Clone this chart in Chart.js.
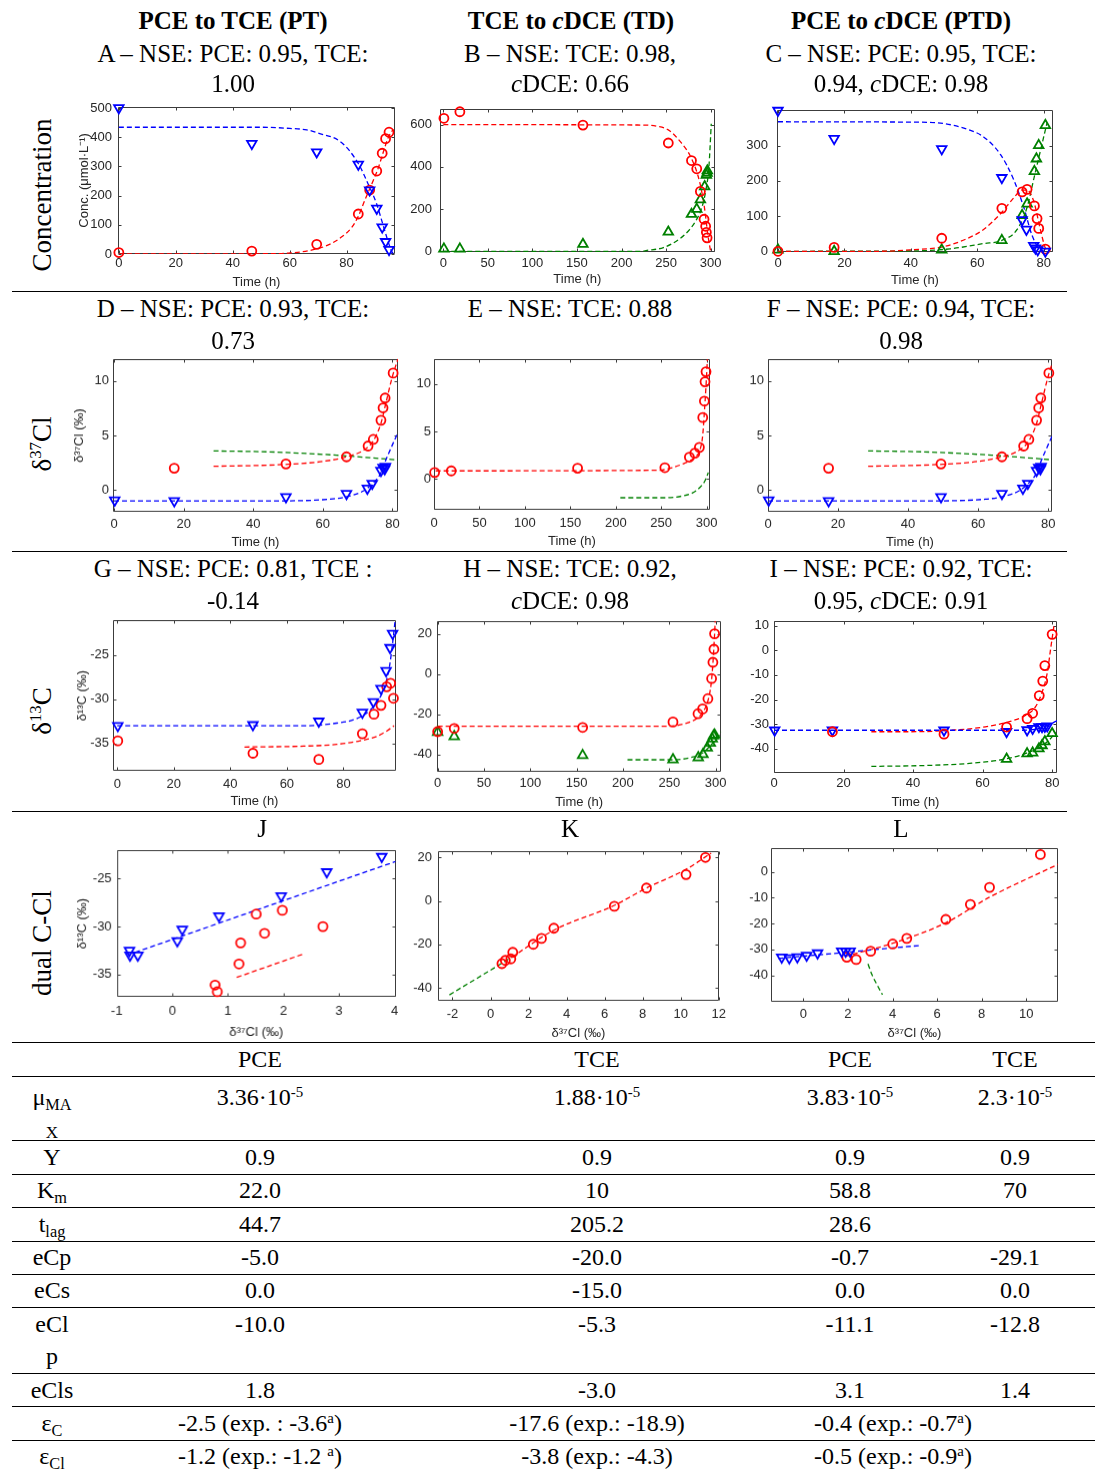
<!DOCTYPE html>
<html>
<head>
<meta charset="utf-8">
<title>PCE / TCE / cDCE model fits</title>
<script src="https://cdn.jsdelivr.net/npm/chart.js@4.4.1/dist/chart.umd.min.js"></script>
<style>
  body { margin: 0; width: 1099px; height: 1471px; position: relative; overflow: hidden; background: #fff;
         font-family: "Liberation Serif", "Times New Roman", serif; color: #000; }
  .t { position: absolute; white-space: nowrap; transform: translate(-50%, -50%); font-size: 25px; line-height: 1; }
  .tb { font-size: 24px; }
  .rot { position: absolute; white-space: nowrap; transform: translate(-50%, -50%) rotate(-90deg); font-size: 27px; line-height: 1; }
  .hl { position: absolute; height: 0; border-top: 1.5px solid #000; }
  canvas { position: absolute; }
  sup { font-size: 0.62em; vertical-align: 0.55em; line-height: 0; }
  sub { font-size: 0.68em; vertical-align: -0.28em; line-height: 0; }
</style>
</head>
<body>
<script>
"use strict";

// ---------- A: PCE -> TCE, concentrations (umol/L)
const aTime = [0, 46.7, 69.5, 84.1, 88.1, 90.6, 92.5, 93.7, 94.9];
const aPCE = [500, 378, 349, 307, 219, 156, 92, 42, 15];
const aTCE = [5, 10, 33, 137, 219, 284, 345, 395, 417];
const aFitPceT = [0, 50, 60, 66, 70, 78.2, 84.1, 87.6, 90.5, 92.9, 94.6, 95.8, 96.5];
const aFitPce = [434, 434, 430, 425, 414, 382, 310, 239, 173, 96, 42, 9, 0];
const aFitTceT = [0, 55, 59.5, 66.5, 73.6, 78.2, 81.8, 84.1, 86.4, 88.8, 91.1, 92.9, 94.6, 96.4];
const aFitTce = [0, 1, 3, 11, 31, 58, 91, 129, 184, 239, 294, 349, 398, 428];

// ---------- B: TCE -> cDCE, concentrations
const bTime = [0.7, 18.6, 156.7, 252.5, 278.5, 284.4, 288.5, 292.6, 294.4, 295.2, 296];
const bTCE = [630, 661, 598, 513, 430, 391, 284, 152, 119, 90, 64];
const bDceTime = [0.7, 18.6, 156.7, 252.5, 278.5, 284.4, 288.5, 293.3, 295.2, 296, 296.3];
const bDCE = [12, 12, 34, 92, 176, 200, 245, 307, 361, 371, 382];
const bFitTceT = [0, 225, 240, 252.5, 265.5, 278.5, 287.7, 293, 297, 300];
const bFitTce = [600, 598, 592, 575, 522, 440, 328, 209, 75, 0];
const bFitDceT = [0, 221, 228.5, 247, 265.5, 276.6, 284, 289.6, 294.4, 298.1, 300.7];
const bFitDce = [0, 0, 4.5, 18, 60, 104, 149, 201, 284, 403, 604];

// ---------- C: PCE -> cDCE, concentrations
const cTime = [0, 16.9, 49.3, 67.4, 73.5, 74.8, 77, 77.5, 78.2, 80.5];
const cPCE = [400, 320, 291, 209, 89, 62, 16, 9, 4, 0];
const cTceTime = [0, 16.9, 49.3, 67.4, 73.5, 75, 77.2, 78, 78.5, 80.5];
const cTCE = [0, 11, 37, 122, 169, 176, 129, 93, 65, 6];
const cDceTime = [0, 16.9, 49.3, 67.4, 73.5, 75, 77.2, 77.8, 78.5, 80.5];
const cDCE = [4, 0, 4, 31, 102, 135, 227, 263, 301, 358];
const cFitPceT = [0, 40, 49.8, 56.9, 61.9, 66.9, 70.9, 74, 76.5, 79, 81];
const cFitPce = [368, 367, 363, 347, 325, 276, 205, 125, 45, 4, 0];
const cFitTceT = [0, 30, 39.7, 49.8, 56.9, 61.9, 67.4, 70.9, 73.5, 75, 77, 79, 80.5, 81.5];
const cFitTce = [0, 0, 4, 13, 36, 62, 111, 151, 174, 174, 142, 62, 9, 0];
const cFitDceT = [0, 40, 51.8, 61.9, 67.4, 72, 75, 77, 79, 81];
const cFitDce = [0, 1, 7, 22, 31, 62, 125, 205, 285, 365];

// ---------- D / F: d37Cl (same data in both panels)
const dTime = [0.2, 17.3, 49.4, 66.8, 72.8, 74.2, 76.7, 77.3, 77.8, 78.0];
const dPCE = [-0.93, -0.99, -0.63, -0.33, 0.15, 0.6, 1.79, 2.06, 1.94, 2.15];
const dTceTime = [17.3, 49.4, 66.8, 73.0, 74.5, 76.7, 77.3, 77.9, 80.2];
const dTCE = [2.0, 2.39, 3.04, 4.03, 4.63, 6.39, 7.52, 8.42, 10.7];
const dFitPceT = [0, 44.8, 62, 67.8, 71.6, 74.5, 76.4, 78.3, 81.6];
const dFitPce = [-0.99, -0.99, -0.84, -0.54, -0.09, 0.66, 1.4, 2.9, 5.28];
const dFitTceT = [28.6, 40, 50, 60, 66.8, 72, 74.5, 76.7, 78, 80, 81.6];
const dFitTce = [2.18, 2.24, 2.36, 2.62, 3.04, 3.7, 4.5, 6.1, 7.8, 10.4, 12];
const dFitDceT = [28.6, 44.8, 63.9, 73.5, 81.6];
const dFitDce = [3.58, 3.49, 3.19, 2.96, 2.75];

// ---------- E: d37Cl, TCE -> cDCE
const eTime = [0.7, 19, 158, 254, 281, 287, 292, 295.7, 297.5, 298.2, 299.3];
const eTCE = [0.69, 0.86, 1.14, 1.2, 2.31, 2.72, 3.34, 6.48, 8.21, 10.24, 11.3];
const eFitTceT = [1.8, 248, 262, 276.7, 287.5, 292.8, 295.7, 297.5, 299.3, 300.8];
const eFitTce = [0.86, 0.93, 1.2, 1.72, 2.31, 3.1, 4.65, 7.07, 9.83, 12.6];
const eFitDceT = [205, 255, 273, 284, 292.8, 298.2, 301.8];
const eFitDce = [-1.97, -1.97, -1.79, -1.48, -0.86, -0.17, 0.69];

// ---------- G: d13C, PCE -> TCE
const gTime = [0.2, 48, 71.3, 86.7, 90.6, 93.3, 95.1, 96.5, 97.4];
const gPCE = [-33.0, -32.9, -32.5, -31.5, -30.3, -28.8, -26.8, -24.2, -22.6];
const gTceTime = [0.2, 48, 71.3, 86.7, 90.8, 93.3, 95.3, 96.7, 97.7];
const gTCE = [-34.7, -36.1, -36.8, -33.9, -31.7, -30.7, -28.6, -28.2, -29.9];
const gFitPceT = [0, 65.9, 77.6, 84.7, 89.4, 92.4, 94.7, 96.3, 97.4, 98.3];
const gFitPce = [-33, -33, -32.7, -32.2, -31.25, -30.1, -28.5, -26.3, -23.7, -21.1];
const gFitTceT = [45, 65.9, 77.6, 85.9, 91.8, 95.3, 97.9];
const gFitTce = [-35.4, -35.3, -35.1, -34.7, -34.2, -33.6, -33.0];

// ---------- H: d13C, TCE -> cDCE
const hTime = [0, 17.9, 156.5, 254, 281, 286, 291.7, 295.7, 297.1, 298.2, 298.9];
const hTCE = [-28.7, -27.1, -26.6, -23.9, -19.8, -17.4, -12.3, -2.3, 5.8, 12.3, 20];
const hDceTime = [0, 17.9, 156.5, 254, 281.3, 286.4, 291, 294.3, 296.4, 297.8, 298.9];
const hDCE = [-29, -31.1, -40.5, -42.6, -41.6, -40, -36.8, -34.4, -32.3, -30.8, -30.3];
const hFitTceT = [0, 246.9, 264.8, 279.2, 286.3, 291.7, 295.3, 297.1, 298.9, 299.6];
const hFitTce = [-26, -26, -25, -22.3, -19, -13.4, -4.5, 5.2, 19.7, 26.4];
const hFitDceT = [204.9, 254, 275.6, 286.3, 295.3, 302.5, 306];
const hFitDce = [-42.7, -42.7, -41.3, -39.2, -35.2, -31.6, -28.7];

// ---------- I: d13C, PCE -> cDCE
const iTime = [0.2, 16.8, 48.9, 66.9, 72.8, 74.4, 76.2, 77.1, 77.9, 78.6];
const iPCE = [-32.5, -32.5, -32.5, -33.1, -32.4, -31.8, -31.1, -31.1, -31.0, -30.8];
const iTceTime = [16.8, 48.9, 66.9, 72.8, 74.4, 76.3, 77.3, 77.9, 80];
const iTCE = [-33.1, -34.1, -31.2, -27.8, -25.6, -18.4, -12.5, -6.2, 6.5];
const iDceTime = [66.9, 72.8, 74.4, 76.2, 77.1, 77.9, 80];
const iDCE = [-44.2, -42.0, -41.7, -40.0, -38.7, -37.1, -33.8];
const iFitPceT = [0, 71.3, 76.2, 79, 81.4];
const iFitPce = [-32.5, -32.5, -31.8, -30.4, -28.6];
const iFitTceT = [28, 39.6, 51.2, 60.8, 67.5, 72.3, 75.2, 77.1, 78.6, 79.5, 80.5];
const iFitTce = [-33.1, -33.1, -32.5, -31.1, -29.1, -26.5, -23, -17.1, -9.2, -0.1, 9.7];
const iFitDceT = [28, 44.4, 56.9, 66.5, 72.3, 76.2, 79, 81];
const iFitDce = [-47.2, -46.8, -45.9, -44.2, -42, -39.6, -36.7, -33.5];

// ---------- J/K/L: dual isotope plots (x = d37Cl, y = d13C)
const jPceCl = [-0.77, -0.76, -0.62, 0.09, 0.18, 0.84, 1.96, 2.78, 3.77];
const jPceC = [-32.5, -33.0, -33.0, -31.5, -30.3, -28.9, -26.8, -24.3, -22.7];
const jTceCl = [0.77, 0.81, 1.2, 1.23, 1.51, 1.66, 1.98, 2.71];
const jTceC = [-36.1, -36.8, -33.9, -31.7, -28.7, -30.7, -28.3, -30.0];
const jFitPceCl = [-0.67, 4.02];
const jFitPceC = [-32.7, -23.2];
const jFitTceCl = [1.16, 2.34];
const jFitTceC = [-35.3, -32.9];

const kTceCl = [0.6, 0.78, 1.07, 1.17, 2.25, 2.68, 3.33, 6.51, 8.2, 10.28, 11.3];
const kTceC = [-28.9, -27.4, -26.7, -23.7, -20, -17.3, -12.6, -2.5, 5.9, 12.1, 20];
const kFitTceCl = [1.12, 3.33, 6.48, 8.2, 10.28, 11.6];
const kFitTceC = [-25.9, -13.5, -2.2, 5.9, 14.5, 22];
const kFitDceCl = [-2.16, -1.12, 0, 1.12];
const kFitDceC = [-43.3, -37.8, -31.9, -25.9];

const lPceCl = [-0.97, -0.63, -0.27, 0.15, 0.64, 1.72, 1.9, 2.1];
const lPceC = [-33.0, -33.3, -32.9, -32.3, -31.4, -30.7, -30.7, -30.7];
const lTceCl = [1.95, 2.37, 3.02, 4.01, 4.64, 6.39, 7.49, 8.35, 10.63];
const lTceC = [-33.0, -33.9, -30.7, -27.9, -25.7, -18.4, -12.6, -6.0, 6.7];
const lFitPceCl = [-1.12, 5.31];
const lFitPceC = [-33.5, -28.4];
const lFitTceCl = [1.87, 4.01, 6.39, 8.35, 11.42];
const lFitTceC = [-32.6, -27.6, -19.7, -9.8, 2.9];
const lFitDceCl = [2.9, 3.07, 3.29, 3.55];
const lFitDceC = [-35.6, -39.6, -43.4, -47.5];

// ---------- tick labels
const ticksTime80 = [0, 20, 40, 60, 80];
const ticksTime300 = [0, 50, 100, 150, 200, 250, 300];
const ticksConcA = [0, 100, 200, 300, 400, 500];
const ticksConcB = [0, 200, 400, 600];
const ticksConcC = [0, 100, 200, 300];
const ticksCl = [0, 5, 10];
const ticksCG = [-35, -30, -25];
const ticksCH = [-40, -20, 0, 20];
const ticksCI = [-40, -30, -20, -10, 0, 10];
const ticksClJ = [-1, 0, 1, 2, 3, 4];
const ticksClK = [-2, 0, 2, 4, 6, 8, 10, 12];
const ticksClL = [0, 2, 4, 6, 8, 10];
const ticksCL = [-40, -30, -20, -10, 0];

// ---------- parameter table
const tableCols = [260, 597, 850, 1015];
const tableHead = ["PCE", "TCE", "PCE", "TCE"];
const muMax = ["3.36·10<sup>-5</sup>", "1.88·10<sup>-5</sup>", "3.83·10<sup>-5</sup>", "2.3·10<sup>-5</sup>"];
const yieldY = ["0.9", "0.9", "0.9", "0.9"];
const kM = ["22.0", "10", "58.8", "70"];
const tLag = ["44.7", "205.2", "28.6", ""];
const eCp = ["-5.0", "-20.0", "-0.7", "-29.1"];
const eCs = ["0.0", "-15.0", "0.0", "0.0"];
const eClp = ["-10.0", "-5.3", "-11.1", "-12.8"];
const eCls = ["1.8", "-3.0", "3.1", "1.4"];
const epsCols = [260, 597, 893];
const epsC = ["-2.5 (exp. : -3.6<sup>a</sup>)", "-17.6 (exp.: -18.9)", "-0.4 (exp.: -0.7<sup>a</sup>)"];
const epsCl = ["-1.2 (exp.: -1.2 <sup>a</sup>)", "-3.8 (exp.: -4.3)", "-0.5 (exp.: -0.9<sup>a</sup>)"];

const RED = "#ff0000", BLUE = "#0000ff", GREEN = "#008000";

function pts(xs, ys) {
  return xs.map((x, i) => ({x: x, y: ys[i]}));
}

function marks(xs, ys, color, kind) {
  return {
    data: pts(xs, ys), showLine: false, clip: 12,
    borderColor: color, backgroundColor: "rgba(0,0,0,0)",
    pointStyle: kind === "o" ? "circle" : "triangle",
    pointRotation: kind === "v" ? 180 : 0,
    pointRadius: kind === "o" ? 4.5 : 5.5, pointBorderWidth: 1.8
  };
}

function fit(xs, ys, color) {
  return {
    data: pts(xs, ys), showLine: true, borderColor: color, borderWidth: 1.3,
    borderDash: [5, 3], pointRadius: 0, fill: false, cubicInterpolationMode: "monotone"
  };
}

// MATLAB-ish frame with inward ticks on all four sides
const boxPlugin = {
  id: "matbox",
  beforeDatasetsDraw(chart) {
    const {ctx, chartArea: a, scales: {x, y}} = chart;
    const l = Math.round(a.left) + 0.5, r = Math.round(a.right) - 0.5;
    const t = Math.round(a.top) + 0.5, b = Math.round(a.bottom) - 0.5;
    ctx.save();
    ctx.strokeStyle = "#3c3c3c";
    ctx.lineWidth = 1;
    ctx.beginPath();
    ctx.rect(l, t, r - l, b - t);
    x.ticks.forEach((tk) => {
      const p = Math.round(x.getPixelForValue(tk.value)) + 0.5;
      ctx.moveTo(p, b); ctx.lineTo(p, b - 3);
      ctx.moveTo(p, t); ctx.lineTo(p, t + 3);
    });
    y.ticks.forEach((tk) => {
      const p = Math.round(y.getPixelForValue(tk.value)) + 0.5;
      ctx.moveTo(l, p); ctx.lineTo(l + 3, p);
      ctx.moveTo(r, p); ctx.lineTo(r - 3, p);
    });
    ctx.stroke();
    ctx.restore();
  }
};

Chart.defaults.font.family = "'Liberation Sans', Arial, sans-serif";
Chart.defaults.font.size = 13;
Chart.defaults.color = "#262626";

// box = [left, top, right, bottom] of the plot area on the page
function panel(box, o) {
  const yw = (o.yw || 36) + 1, xh = (o.xh || 36) + 1, pt = 8, pr = 8;
  const w = yw + (box[2] - box[0]) + pr, h = pt + (box[3] - box[1]) + xh;
  const cv = document.createElement("canvas");
  cv.width = w; cv.height = h;
  cv.style.left = (box[0] - yw) + "px";
  cv.style.top = (box[1] - pt) + "px";
  cv.style.width = w + "px";
  cv.style.height = h + "px";
  document.body.appendChild(cv);

  new Chart(cv, {
    type: "scatter",
    data: {datasets: o.sets},
    options: {
      responsive: false, animation: false, devicePixelRatio: 1,
      layout: {padding: {top: pt, right: pr, left: 0, bottom: 0}},
      plugins: {legend: {display: false}, tooltip: {enabled: false}},
      scales: {
        x: {
          type: "linear", min: o.x[0], max: o.x[1],
          grid: {display: false, drawTicks: false, tickLength: 0}, border: {display: false},
          afterFit(s) { s.height = xh; },
          afterBuildTicks(s) { s.ticks = o.xt.map((v) => ({value: v})); },
          ticks: {padding: Math.max(1.5, (o.xpad || 5) - 1), maxRotation: 0, autoSkip: false, callback: (v) => String(v)},
          title: {display: true, text: o.xl || "Time (h)", padding: 0, font: {size: 13}}
        },
        y: {
          type: "linear", min: o.y[0], max: o.y[1],
          grid: {display: false, drawTicks: false, tickLength: 0}, border: {display: false},
          afterFit(s) { s.width = yw; },
          afterBuildTicks(s) { s.ticks = o.yt.map((v) => ({value: v})); },
          ticks: {padding: o.ypad || 5, autoSkip: false, callback: (v) => String(v)},
          title: {display: !!o.yl, text: o.yl || "", padding: 0, font: {size: 13}}
        }
      }
    },
    plugins: [boxPlugin]
  });
}

// ---- row 1: concentrations
panel([118, 101, 395, 254], {
  x: [-0.3, 97], y: [0, 504], xt: ticksTime80, yt: ticksConcA, yw: 40, xh: 35, xpad: 2.5, ypad: 6,
  yl: "Conc. (μmol·L⁻¹)",
  sets: [marks(aTime, aPCE, BLUE, "v"), marks(aTime, aTCE, RED, "o"),
         fit(aFitPceT, aFitPce, BLUE), fit(aFitTceT, aFitTce, RED)]
});
panel([440, 101, 717, 252], {
  x: [-3.7, 304.5], y: [-3, 675], xt: ticksTime300, yt: ticksConcB, xh: 34, xpad: 4.4, ypad: 8,
  sets: [marks(bTime, bTCE, RED, "o"), marks(bDceTime, bDCE, GREEN, "^"),
         fit(bFitTceT, bFitTce, RED), fit(bFitDceT, bFitDce, GREEN)]
});
panel([777, 101, 1053, 252], {
  x: [-0.3, 82.8], y: [-2, 402], xt: ticksTime80, yt: ticksConcC, xh: 35, xpad: 4.4, ypad: 9,
  sets: [marks(cTime, cPCE, BLUE, "v"), marks(cTceTime, cTCE, RED, "o"), marks(cDceTime, cDCE, GREEN, "^"),
         fit(cFitPceT, cFitPce, BLUE), fit(cFitTceT, cFitTce, RED), fit(cFitDceT, cFitDce, GREEN)]
});

// ---- row 2: d37Cl
panel([113, 355, 398, 512], {
  x: [-0.3, 81.6], y: [-2.03, 12], xt: ticksTime80, yt: ticksCl, yw: 40, xh: 36.6, xpad: 5, ypad: 4,
  yl: "δ³⁷Cl (‰)",
  sets: [marks(dTime, dPCE, BLUE, "v"), marks(dTceTime, dTCE, RED, "o"),
         fit(dFitPceT, dFitPce, BLUE), fit(dFitTceT, dFitTce, RED), fit(dFitDceT, dFitDce, GREEN)]
});
panel([434, 356, 715, 510], {
  x: [0, 303.6], y: [-3.28, 12.65], xt: ticksTime300, yt: ticksCl, xh: 37.6, xpad: 6.4, ypad: 3,
  sets: [marks(eTime, eTCE, RED, "o"), fit(eFitTceT, eFitTce, RED), fit(eFitDceT, eFitDce, GREEN)]
});
panel([768, 355, 1052, 512], {
  x: [0, 81.1], y: [-2.03, 12], xt: ticksTime80, yt: ticksCl, xh: 36.6, xpad: 5, ypad: 4,
  sets: [marks(dTime, dPCE, BLUE, "v"), marks(dTceTime, dTCE, RED, "o"),
         fit(dFitPceT, dFitPce, BLUE), fit(dFitTceT, dFitTce, RED), fit(dFitDceT, dFitDce, GREEN)]
});

// ---- row 3: d13C
panel([113, 616, 396, 771], {
  x: [-1.5, 98.6], y: [-38.13, -21.06], xt: ticksTime80, yt: ticksCG, yw: 37, xh: 36.6, xpad: 6, ypad: 4,
  yl: "δ¹³C (‰)",
  sets: [marks(gTime, gPCE, BLUE, "v"), marks(gTceTime, gTCE, RED, "o"),
         fit(gFitPceT, gFitPce, BLUE), fit(gFitTceT, gFitTce, RED)]
});
panel([437, 616, 722, 772], {
  x: [-0.7, 306], y: [-48.9, 26.4], xt: ticksTime300, yt: ticksCH, xh: 36.6, xpad: 4.4, ypad: 5,
  sets: [marks(hTime, hTCE, RED, "o"), marks(hDceTime, hDCE, GREEN, "^"),
         fit(hFitTceT, hFitTce, RED), fit(hFitDceT, hFitDce, GREEN)]
});
panel([774, 616, 1057, 773], {
  x: [0, 81.4], y: [-49.8, 12], xt: ticksTime80, yt: ticksCI, xh: 36.2, xpad: 4, ypad: 5,
  sets: [marks(iTceTime, iTCE, RED, "o"), marks(iTime, iPCE, BLUE, "v"), marks(iDceTime, iDCE, GREEN, "^"),
         fit(iFitPceT, iFitPce, BLUE), fit(iFitTceT, iFitTce, RED), fit(iFitDceT, iFitDce, GREEN)]
});

// ---- row 4: dual isotope
panel([117, 845, 396, 997], {
  x: [-1, 4.02], y: [-37.37, -22], xt: ticksClJ, yt: ticksCG, yw: 40.6, xh: 41.6, xpad: 6.8, ypad: 5,
  xl: "δ³⁷Cl (‰)", yl: "δ¹³C (‰)",
  sets: [marks(jPceCl, jPceC, BLUE, "v"), marks(jTceCl, jTceC, RED, "o"),
         fit(jFitPceCl, jFitPceC, BLUE), fit(jFitTceCl, jFitTceC, RED)]
});
panel([438, 845, 723, 1001], {
  x: [-2.76, 12], y: [-46.2, 23], xt: ticksClK, yt: ticksCH, xh: 38.6, xpad: 6, ypad: 6,
  xl: "δ³⁷Cl (‰)",
  sets: [marks(kTceCl, kTceC, RED, "o"), fit(kFitTceCl, kFitTceC, RED), fit(kFitDceCl, kFitDceC, GREEN)]
});
panel([771, 845, 1058, 1002], {
  x: [-1.45, 11.42], y: [-50.4, 9.26], xt: ticksClL, yt: ticksCL, xh: 37.6, xpad: 5, ypad: 3,
  xl: "δ³⁷Cl (‰)",
  sets: [marks(lPceCl, lPceC, BLUE, "v"), marks(lTceCl, lTceC, RED, "o"),
         fit(lFitPceCl, lFitPceC, BLUE), fit(lFitTceCl, lFitTceC, RED), fit(lFitDceCl, lFitDceC, GREEN)]
});

// ---- page text
function text(x, y, html, cls) {
  const d = document.createElement("div");
  d.className = cls || "t";
  d.style.left = x + "px";
  d.style.top = y + "px";
  d.innerHTML = html;
  document.body.appendChild(d);
}
function hline(y, x0, x1) {
  const d = document.createElement("div");
  d.className = "hl";
  d.style.left = x0 + "px";
  d.style.top = y + "px";
  d.style.width = (x1 - x0) + "px";
  document.body.appendChild(d);
}

text(233, 20, "<b>PCE to TCE (PT)</b>");
text(571, 20, "<b>TCE to <i>c</i>DCE (TD)</b>");
text(901, 20, "<b>PCE to <i>c</i>DCE (PTD)</b>");
text(233, 53, "A – NSE: PCE: 0.95, TCE:");
text(233, 83, "1.00");
text(570, 53, "B – NSE: TCE: 0.98,");
text(570, 83, "<i>c</i>DCE: 0.66");
text(901, 53, "C – NSE: PCE: 0.95, TCE:");
text(901, 83, "0.94, <i>c</i>DCE: 0.98");

text(233, 308, "D – NSE: PCE: 0.93, TCE:");
text(233, 340, "0.73");
text(570, 308, "E – NSE: TCE: 0.88");
text(901, 308, "F – NSE: PCE: 0.94, TCE:");
text(901, 340, "0.98");

text(233, 568, "G – NSE: PCE: 0.81, TCE :");
text(233, 600, "-0.14");
text(570, 568, "H – NSE: TCE: 0.92,");
text(570, 600, "<i>c</i>DCE: 0.98");
text(901, 568, "I – NSE: PCE: 0.92, TCE:");
text(901, 600, "0.95, <i>c</i>DCE: 0.91");

text(262, 828, "J");
text(570, 828, "K");
text(901, 828, "L");

text(42, 195, "Concentration", "rot");
text(42, 444, "δ<sup>37</sup>Cl", "rot");
text(42, 711, "δ<sup>13</sup>C", "rot");
text(42, 943, "dual C-Cl", "rot");

[291, 551, 811].forEach((y) => hline(y, 12, 1067));
[1042, 1076, 1140, 1174, 1207, 1241, 1274, 1307, 1373, 1406, 1440].forEach((y) => hline(y, 12, 1095));

// ---- table
function tableRow(y, label, vals, cols) {
  if (label) text(52, y, label, "t tb");
  vals.forEach((v, i) => { if (v) text(cols[i], y, v, "t tb"); });
}
tableRow(1059, "", tableHead, tableCols);
tableRow(1097, "μ<sub>MA</sub>", muMax, tableCols);
text(52, 1130, "<span style='font-size:17px'>X</span>", "t tb");
tableRow(1157, "Y", yieldY, tableCols);
tableRow(1190, "K<sub>m</sub>", kM, tableCols);
tableRow(1224, "t<sub>lag</sub>", tLag, tableCols);
tableRow(1257, "eCp", eCp, tableCols);
tableRow(1290, "eCs", eCs, tableCols);
tableRow(1324, "eCl", eClp, tableCols);
text(52, 1356, "p", "t tb");
tableRow(1390, "eCls", eCls, tableCols);
tableRow(1423, "ε<sub>C</sub>", epsC, epsCols);
tableRow(1456, "ε<sub>Cl</sub>", epsCl, epsCols);
</script>
</body>
</html>
